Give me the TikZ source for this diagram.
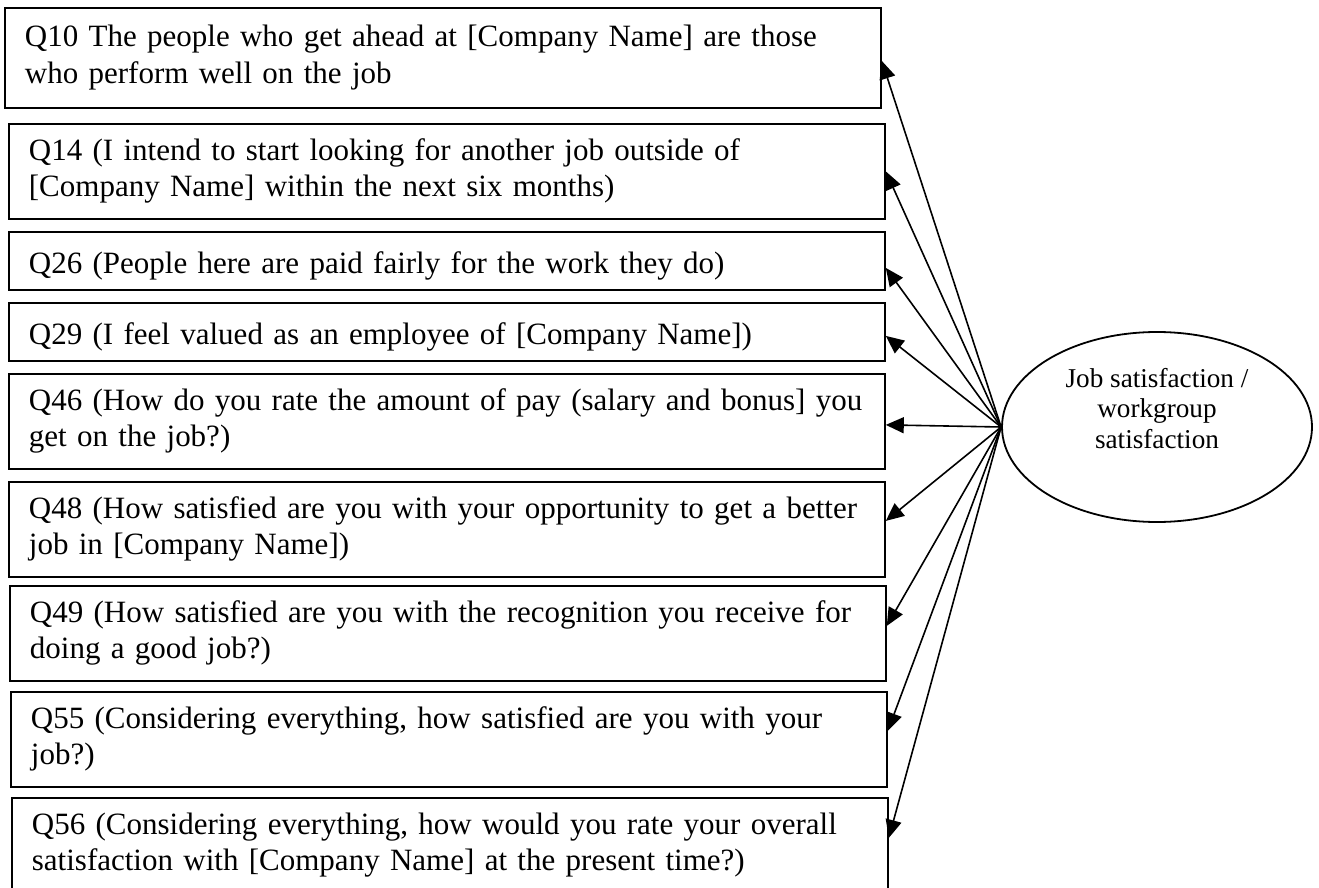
\documentclass[tikz,border=0pt]{standalone}
\usepackage{fontspec}
\setmainfont{Liberation Serif}
\usetikzlibrary{arrows.meta,shapes.geometric}
\tikzset{
  qbox/.style={draw,line width=0.9pt,anchor=north west,align=left,text width=418pt,inner xsep=10pt,inner ysep=0pt,font=\fontsize{15.5}{18.2}\selectfont},
  oneline/.style={qbox,minimum height=29pt,text depth=0pt},
  twoline/.style={qbox,minimum height=47.5pt},
}
\begin{document}
\begin{tikzpicture}[x=0.5pt,y=-0.5pt,>={Triangle[length=9pt,width=8pt]}]
	\useasboundingbox (0,0) rectangle (1319,888);
	% question boxes
	\node[twoline,minimum height=50pt] (q10) at (4,7) {\strut Q10 The people who get ahead at [Company Name] are those\\who perform well on the job\strut};
	\node[twoline] (q14) at (8,123) {\strut Q14 (I intend to start looking for another job outside of\\{[}Company Name] within the next six months)\strut};
	\node[oneline] (q26) at (8,231) {\strut Q26 (People here are paid fairly for the work they do)};
	\node[oneline] (q29) at (8,302) {\strut Q29 (I feel valued as an employee of [Company Name])};
	\node[twoline] (q46) at (8,373) {\strut Q46 (How do you rate the amount of pay (salary and bonus] you\\get on the job?)\strut};
	\node[twoline] (q48) at (8,481) {\strut Q48 (How satisfied are you with your opportunity to get a better\\job in [Company Name])\strut};
	\node[twoline] (q49) at (9,585) {\strut Q49 (How satisfied are you with the recognition you receive for\\doing a good job?)\strut};
	\node[twoline] (q55) at (10,691) {\strut Q55 (Considering everything, how satisfied are you with your\\job?)\strut};
	\node[twoline] (q56) at (11,797) {\strut Q56 (Considering everything, how would you rate your overall\\satisfaction with [Company Name] at the present time?)\strut};
	% latent factor
	\node[draw,ellipse,line width=0.9pt,minimum width=155pt,minimum height=95pt,inner sep=0pt] (js) at (1157,427) {};
	\node[align=center,inner sep=0pt,font=\fontsize{13.6}{15.25}\selectfont] (jstext) at ([yshift=7.8pt]js.center) {\strut Job satisfaction /\\workgroup\\satisfaction\strut};
	% loadings
	\foreach \q/\dy in {q10/-1.5,q14/0,q26/-3.5,q29/-2,q46/-1.75,q48/4.25,q49/3.75,q55/4.25,q56/3.75}
		\draw[->,line width=0.8pt] (js.west) -- ([yshift=\dy pt]\q.east);
\end{tikzpicture}
\end{document}
